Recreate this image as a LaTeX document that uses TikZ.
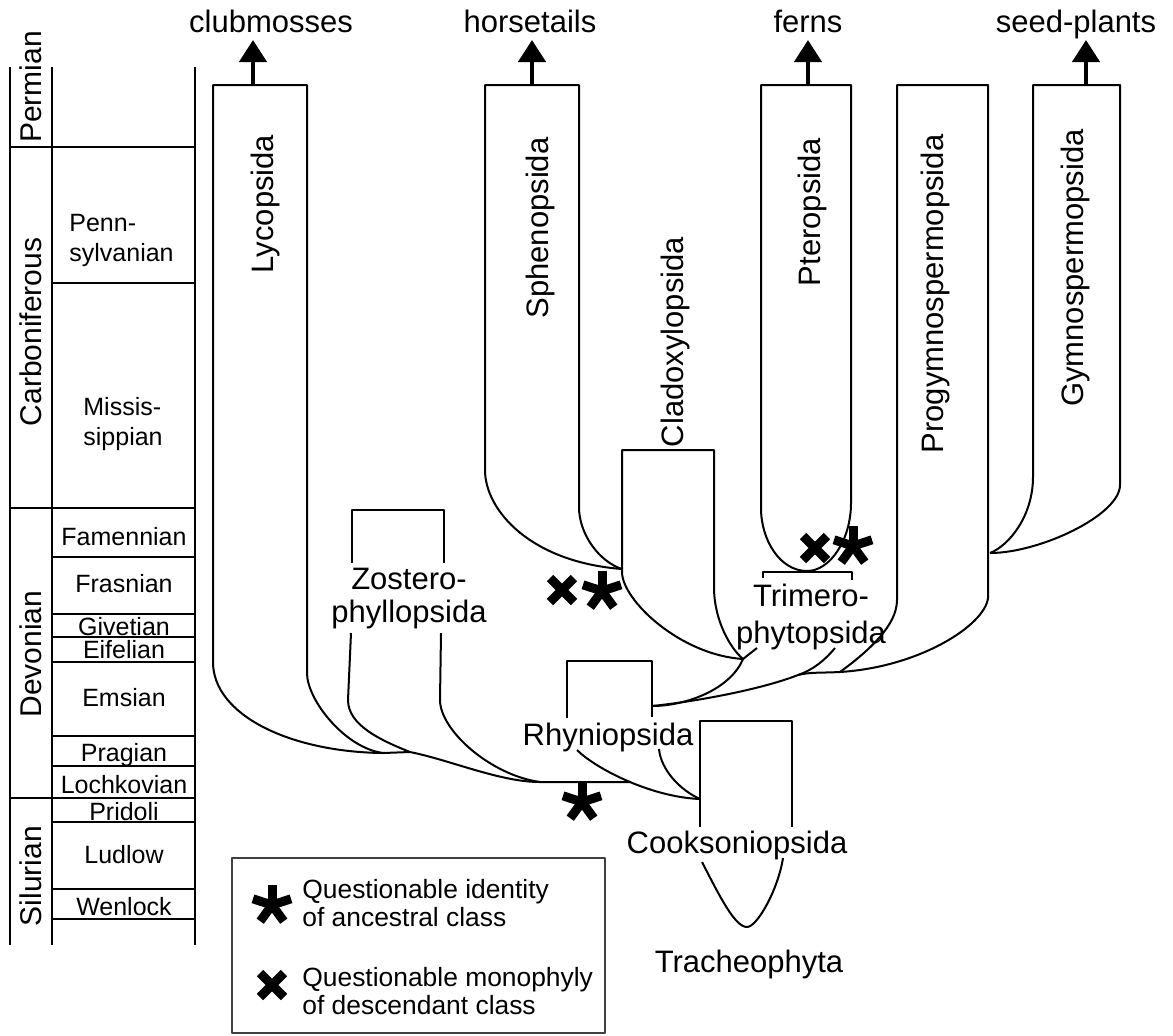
\documentclass[tikz,border=0pt]{standalone}
\usepackage{fontspec}
\setmainfont{Liberation Sans}
\usetikzlibrary{arrows.meta,positioning}
\tikzstyle{timeline} = [draw, line width=1.4pt]
\tikzstyle{clade} = [draw, line width=1pt]
\tikzstyle{lineage} = [draw, line width=2.2pt, -{Triangle[width=13.5pt,length=11pt]}]
\tikzstyle{taxon} = [inner sep=0pt, font=\fontsize{15.5}{16.5}\selectfont, align=center]
\tikzstyle{vtaxon} = [taxon, rotate=90, anchor=base]
\tikzstyle{period} = [inner sep=0pt, font=\fontsize{15}{18}\selectfont, rotate=90]
\tikzstyle{stagelabel} = [inner sep=0pt, font=\fontsize{12.5}{15}\selectfont, align=left]
\tikzstyle{legendtext} = [inner sep=0pt, font=\fontsize{13.2}{14}\selectfont, align=left, anchor=north west]
\tikzset{
  astmark/.pic = {\foreach \a in {-90,-18,-162,54,126} \draw [line width=4.5pt] (0,0) -- (\a:20);},
  crossmark/.pic = {\draw [line width=4.5pt] (-12,-12) -- (12,12) (-12,12) -- (12,-12);}
}

\begin{document}
\begin{tikzpicture}[x=0.5pt, y=-0.5pt, line join=round]
    \useasboundingbox (0,0) rectangle (1173,1035);

    % time scale
    \draw [timeline] (10,67) -- (10,945) (52,67) -- (52,945) (195,67) -- (195,945);
    \foreach \y in {147,508,798} \draw [timeline] (10,\y) -- (195,\y);
    \foreach \y in {283,557,614,637,662,736,766,822,889,919} \draw [timeline] (52,\y) -- (195,\y);

    \node [period, name = perm] at (31,87) {Permian};
    \node [period, name = carb] at (31,332) {Carboniferous};
    \node [period, name = devo] at (31,654) {Devonian};
    \node [period, name = silu] at (31,876) {Silurian};

    \node [stagelabel, anchor = north west, name = penn] at (69,214) {Penn-\\sylvanian};
    \node [stagelabel, anchor = north west, name = miss] at (83,397) {Missis-\\sippian};
    \node [stagelabel, anchor = base, name = fame] at (124,545) {Famennian};
    \node [stagelabel, anchor = base, name = fras] at (124,592) {Frasnian};
    \node [stagelabel, anchor = base, name = give] at (124,635) {Givetian};
    \node [stagelabel, anchor = base, name = eife] at (124,658) {Eifelian};
    \node [stagelabel, anchor = base, name = emsi] at (124,706) {Emsian};
    \node [stagelabel, anchor = base, name = prag] at (124,761) {Pragian};
    \node [stagelabel, anchor = base, name = loch] at (124,793) {Lochkovian};
    \node [stagelabel, anchor = base, name = prid] at (124,820) {Pridoli};
    \node [stagelabel, anchor = base, name = ludl] at (124,863) {Ludlow};
    \node [stagelabel, anchor = base, name = wenl] at (124,915) {Wenlock};

    % branch points
    \coordinate (lyc) at (383,753);
    \coordinate (zos) at (410,752);
    \coordinate (zosr) at (540,782);
    \coordinate (rhyl) at (630,782);
    \coordinate (coo) at (700,799);
    \coordinate (rhyr) at (652,706);
    \coordinate (sph) at (622,569);
    \coordinate (cla) at (743,659);
    \coordinate (pte) at (807,571);
    \coordinate (tri) at (798,675);
    \coordinate (pro) at (840,672);
    \coordinate (gym) at (990,553);

    % classes
    \draw [clade] (213,662) -- (213,85) -- (307,85) -- (307,673) .. controls (307,700) and (345,748) .. (lyc);
    \draw [clade] (213,662) .. controls (213,715) and (290,752) .. (lyc) -- (zos) .. controls (450,760) and (500,782) .. (zosr) -- (rhyl);

    \draw [clade] (352,563) -- (352,510) -- (444,510) -- (444,563);
    \draw [clade] (351,633) -- (348,700) .. controls (348,725) and (380,740) .. (zos);
    \draw [clade] (441,633) -- (440,700) .. controls (440,730) and (490,775) .. (zosr);

    \draw [clade] (567,718) -- (567,661) -- (652,661) -- (652,717);
    \draw [clade] (577,750) .. controls (595,768) and (650,797) .. (coo);
    \draw [clade] (659,749) .. controls (661,770) and (680,790) .. (coo);

    \draw [clade] (700,827) -- (700,721) -- (792,721) -- (792,827);
    \draw [clade] (702,862) .. controls (720,897) and (735,927) .. (747,927) .. controls (757,927) and (778,890) .. (783,858);

    \draw [clade] (485,470) -- (485,85) -- (579,85) -- (579,507) .. controls (579,535) and (600,562) .. (sph);
    \draw [clade] (485,470) .. controls (485,510) and (530,562) .. (sph);

    \draw [clade] (622,572) -- (622,450) -- (714,450) -- (714,587) .. controls (714,620) and (730,648) .. (cla);
    \draw [clade] (622,572) .. controls (622,600) and (680,655) .. (cla) .. controls (730,690) and (685,706) .. (rhyr);

    \draw [clade] (761,508) -- (761,85) -- (851,85) -- (851,503) .. controls (851,540) and (830,571) .. (pte);
    \draw [clade] (761,508) .. controls (761,540) and (780,571) .. (pte);
    \draw [clade] (763,578) -- (763,572) -- (852,572) -- (852,580);
    \draw [clade] (757,648) -- (cla);
    \draw [clade] (835,648) .. controls (825,660) and (813,670) .. (tri);

    \draw [clade] (897,600) -- (897,85) -- (988,85) -- (988,598) .. controls (985,625) and (920,667) .. (pro) .. controls (820,673) and (810,672) .. (tri) .. controls (760,690) and (692,702) .. (rhyr);
    \draw [clade] (897,600) .. controls (897,625) and (870,650) .. (pro);

    \draw [clade] (1033,477) -- (1033,85) -- (1120,85) -- (1120,485) .. controls (1120,515) and (1040,553) .. (gym);
    \draw [clade] (1033,477) .. controls (1033,515) and (1010,545) .. (gym);

    % surviving lineages
    \coordinate (lyctop) at (253,86);  \coordinate (lyctip) at (253,40);
    \coordinate (sphtop) at (532,86);  \coordinate (sphtip) at (532,40);
    \coordinate (ptetop) at (808,86);  \coordinate (ptetip) at (808,40);
    \coordinate (gymtop) at (1086,86); \coordinate (gymtip) at (1086,40);
    \draw [lineage] (lyctop) -- (lyctip);
    \draw [lineage] (sphtop) -- (sphtip);
    \draw [lineage] (ptetop) -- (ptetip);
    \draw [lineage] (gymtop) -- (gymtip);

    \node [taxon, anchor = base, name = clubmosses] at (271,32) {clubmosses};
    \node [taxon, anchor = base, name = horsetails] at (530,32) {horsetails};
    \node [taxon, anchor = base, name = ferns] at (808,32) {ferns};
    \node [taxon, anchor = base, name = seedplants] at (1076,32) {seed-plants};

    \node [vtaxon, name = lycopsida] at (273,204) {Lycopsida};
    \node [vtaxon, name = sphenopsida] at (548,228) {Sphenopsida};
    \node [vtaxon, name = cladoxylopsida] at (683,342) {Cladoxylopsida};
    \node [vtaxon, name = pteropsida] at (820,212) {Pteropsida};
    \node [vtaxon, name = progymno] at (943,294) {Progymnospermopsida};
    \node [vtaxon, name = gymno] at (1083,268) {Gymnospermopsida};

    \node [taxon, anchor = north, name = zostero] at (409,568) {Zostero-\\phyllopsida};
    \node [taxon, anchor = north, font = \fontsize{15.5}{18.5}\selectfont, name = trimero] at (811,584) {Trimero-\\phytopsida};
    \node [taxon, anchor = base, name = rhynio] at (608,745) {Rhyniopsida};
    \node [taxon, anchor = base, name = cookso] at (737,853) {Cooksoniopsida};
    \node [taxon, anchor = base, name = tracheo] at (749,972) {Tracheophyta};

    % marks
    \pic at (582,802) {astmark};
    \pic at (562,590) {crossmark};
    \pic at (602,591) {astmark};
    \pic at (815,548) {crossmark};
    \pic at (853,546) {astmark};

    % legend
    \draw [draw=black!75, line width=0.8pt] (232,858) rectangle (605,1033);
    \pic at (272,905) {astmark};
    \pic at (272,985) {crossmark};
    \node [legendtext, name = ident] at (302,879) {Questionable identity\\ of ancestral class};
    \node [legendtext, name = mono] at (302,967) {Questionable monophyly\\of descendant class};

\end{tikzpicture}
\end{document}
